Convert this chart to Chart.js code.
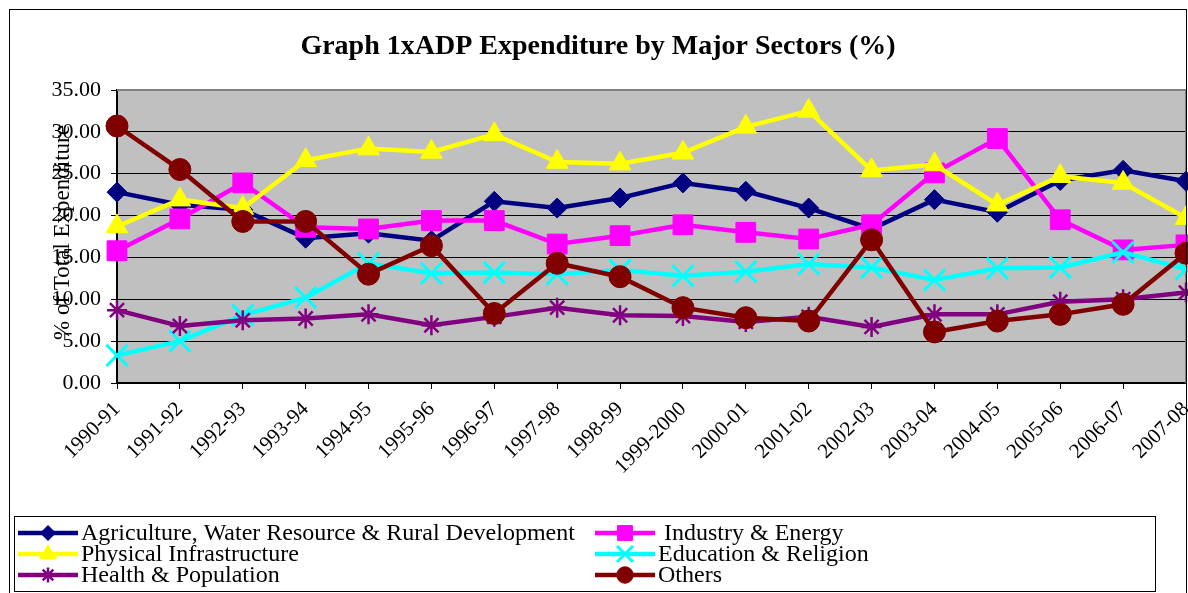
<!DOCTYPE html>
<html>
<head>
<meta charset="utf-8">
<title>ADP Expenditure by Major Sectors</title>
<script src="https://cdn.jsdelivr.net/npm/chart.js"></script>
<style>
  html, body { margin: 0; padding: 0; background: #fff; }
  #wrap { position: relative; width: 1188px; height: 593px; }
</style>
</head>
<body>
<div id="wrap"><canvas id="adpChart" width="1188" height="593"></canvas></div>
<script>
// ADP expenditure share by major sector, 1990-91 .. 2007-08 (% of total)
const years = ['1990-91', '1991-92', '1992-93', '1993-94', '1994-95', '1995-96', '1996-97',
    '1997-98', '1998-99', '1999-2000', '2000-01', '2001-02', '2002-03', '2003-04',
    '2004-05', '2005-06', '2006-07', '2007-08'];

const agriculture = [22.8, 21.3, 20.7, 17.3, 17.9, 17.0, 21.7, 20.9, 22.1, 23.9, 22.9, 20.9, 18.4, 21.9, 20.4, 24.2, 25.4, 24.1];
const industry    = [15.8, 19.6, 23.9, 18.6, 18.4, 19.4, 19.4, 16.6, 17.6, 18.9, 18.0, 17.2, 18.9, 25.1, 29.2, 19.5, 15.9, 16.5];
const physical    = [18.7, 21.9, 20.9, 26.6, 28.0, 27.6, 29.7, 26.4, 26.2, 27.5, 30.6, 32.5, 25.4, 26.1, 21.3, 24.7, 23.9, 19.7];
const education   = [3.3, 5.0, 8.1, 10.2, 14.3, 13.1, 13.2, 13.0, 13.5, 12.8, 13.3, 14.2, 13.8, 12.3, 13.7, 13.8, 15.6, 13.6];
const health      = [8.7, 6.8, 7.5, 7.7, 8.2, 6.9, 7.9, 9.0, 8.1, 8.0, 7.3, 7.9, 6.7, 8.2, 8.2, 9.7, 10.0, 10.8];
const others      = [30.7, 25.5, 19.3, 19.3, 13.0, 16.4, 8.3, 14.3, 12.7, 9.0, 7.8, 7.4, 17.1, 6.1, 7.4, 8.2, 9.4, 15.5];

const yTicks = [0, 5, 10, 15, 20, 25, 30, 35];

const SERIF = "'Liberation Serif', 'Times New Roman', serif";

// label, values, colour, point style, radius, point border width
const series = [
    ['Agriculture, Water Resource & Rural Development', agriculture, '#000080', 'rectRot', 10, 1],
    [' Industry & Energy', industry, '#ff00ff', 'rect', 14, 1],
    ['Physical Infrastructure', physical, '#ffff00', 'triangle', 12.5, 1],
    ['Education & Religion', education, '#00ffff', 'crossRot', 15, 3],
    ['Health & Population', health, '#800080', 'star', 10, 2.5],
    ['Others', others, '#800000', 'circle', 11, 1]
];

const datasets = series.map(([label, data, color, style, r, pbw], i) => ({
    label,
    data,
    borderColor: color,
    backgroundColor: color,
    borderWidth: 4.5,
    pointStyle: style,
    pointRadius: r,
    pointBorderWidth: pbw,
    pointBackgroundColor: color,
    pointBorderColor: color,
    tension: 0,
    clip: false,
    order: series.length - i   // later series painted on top, like the original
}));

function drawMarker(ctx, style, r, bw, x, y) {
    if (Chart.helpers && Chart.helpers.drawPoint) {
        Chart.helpers.drawPoint(ctx, { pointStyle: style, radius: r, borderWidth: bw, rotation: 0 }, x, y);
    } else {
        ctx.beginPath();
        ctx.arc(x, y, r, 0, Math.PI * 2);
        ctx.fill();
    }
}

const framePlugin = {
    id: 'frame',
    beforeDraw(chart) {
        const { ctx, chartArea: a } = chart;
        ctx.save();
        ctx.fillStyle = '#fff';
        ctx.fillRect(0, 0, chart.width, chart.height);
        ctx.fillStyle = '#c0c0c0';
        ctx.fillRect(a.left, a.top, a.right - a.left, a.bottom - a.top);
        ctx.restore();
    },
    beforeDatasetsDraw(chart) {
        const { ctx, chartArea: a } = chart;
        ctx.save();
        ctx.strokeStyle = '#808080';
        ctx.lineWidth = 2;
        ctx.beginPath();
        ctx.moveTo(a.left, a.top);
        ctx.lineTo(a.right, a.top);
        ctx.lineTo(a.right, a.bottom);
        ctx.stroke();
        ctx.restore();
    },
    afterDraw(chart) {
        const { ctx, chartArea: a } = chart;
        ctx.save();

        // outer chart frame
        ctx.strokeStyle = '#000';
        ctx.lineWidth = 1;
        ctx.strokeRect(9.5, 9.5, 1177, 600);

        // title
        ctx.fillStyle = '#000';
        ctx.font = 'bold 28px ' + SERIF;
        ctx.textAlign = 'center';
        ctx.textBaseline = 'middle';
        ctx.fillText('Graph 1xADP Expenditure by Major Sectors (%)', 598, 47);

        // y axis title (overlaps tick labels in the original)
        ctx.save();
        ctx.translate(63, (a.top + a.bottom) / 2 - 4);
        ctx.rotate(-Math.PI / 2);
        ctx.font = '23px ' + SERIF;
        ctx.fillText('% of Total Expenditure', 0, 0);
        ctx.restore();

        // legend box
        ctx.strokeStyle = '#000';
        ctx.lineWidth = 1;
        ctx.strokeRect(14.5, 516.5, 1141, 75);

        ctx.font = '24px ' + SERIF;
        ctx.textAlign = 'left';
        ctx.textBaseline = 'middle';
        series.forEach(([label, , color, style, r, pbw], i) => {
            const col = i % 2, row = Math.floor(i / 2);
            const x0 = col === 0 ? 18 : 595;
            const y = 533 + row * 21;
            ctx.strokeStyle = color;
            ctx.fillStyle = color;
            ctx.lineWidth = 4.5;
            ctx.beginPath();
            ctx.moveTo(x0, y);
            ctx.lineTo(x0 + 60, y);
            ctx.stroke();
            ctx.lineWidth = pbw;
            drawMarker(ctx, style, r * 0.75, pbw, x0 + 30, y);
            ctx.fillStyle = '#000';
            ctx.fillText(label, x0 + 63, y + 1);
        });
        ctx.restore();
    }
};

new Chart(document.getElementById('adpChart'), {
    type: 'line',
    data: { labels: years, datasets },
    options: {
        responsive: false,
        animation: false,
        events: [],
        layout: { autoPadding: false, padding: { top: 90, left: 9, right: 2, bottom: 0 } },
        plugins: {
            legend: { display: false },
            title: { display: false },
            tooltip: { enabled: false }
        },
        scales: {
            x: {
                offset: false,
                afterFit: (s) => { s.height = 210; s.paddingLeft = 0; s.paddingRight = 0; },
                border: { color: '#000', width: 2 },
                grid: { drawOnChartArea: false, drawTicks: true, tickLength: 6, color: '#000' },
                ticks: {
                    autoSkip: false,
                    maxRotation: 45,
                    minRotation: 45,
                    padding: 8,
                    color: '#000',
                    font: { family: SERIF, size: 21 }
                }
            },
            y: {
                min: yTicks[0],
                max: yTicks[yTicks.length - 1],
                afterFit: (s) => { s.width = 108; },
                afterBuildTicks: (s) => { s.ticks = yTicks.map(v => ({ value: v })); },
                border: { color: '#000', width: 2 },
                grid: {
                    color: (c) => (c.tick && c.tick.value === 35 ? '#808080' : '#000'),
                    lineWidth: 1,
                    tickLength: 6,
                    tickColor: '#000'
                },
                ticks: {
                    padding: 10,
                    color: '#000',
                    font: { family: SERIF, size: 22 },
                    callback: (v) => Number(v).toFixed(2)
                }
            }
        }
    },
    plugins: [framePlugin]
});
</script>
</body>
</html>
